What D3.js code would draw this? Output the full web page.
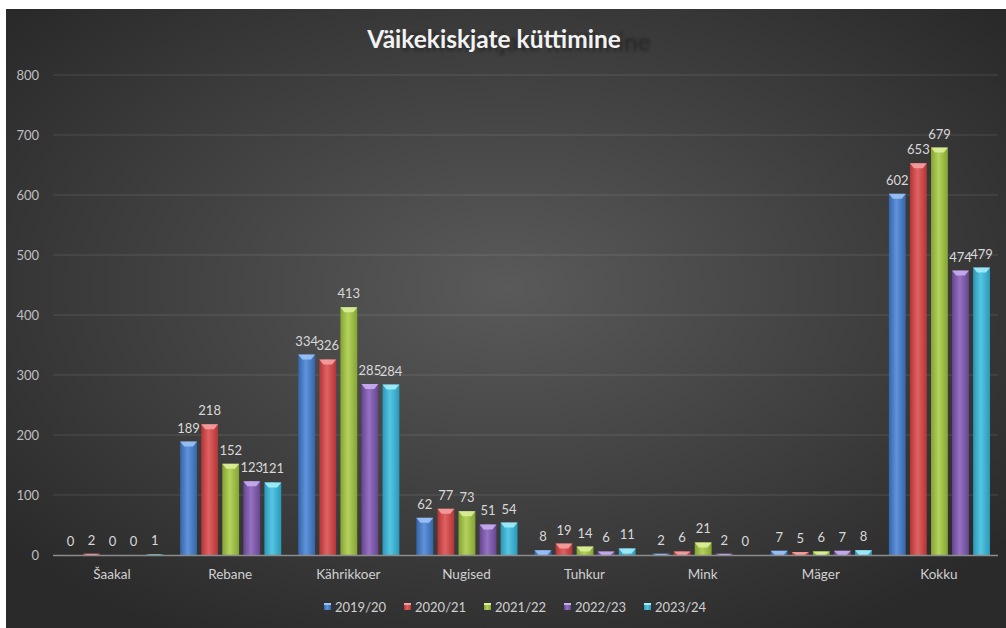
<!DOCTYPE html>
<html><head><meta charset="utf-8">
<script src="https://cdn.jsdelivr.net/npm/d3@7/dist/d3.min.js"></script>
<style>
html,body{margin:0;padding:0;background:#fff;}
svg{display:block;font-family:Lato,"Open Sans",sans-serif;}
</style></head>
<body><svg id="c" width="1006" height="628"></svg>
<script>
const categories = ["Šaakal","Rebane","Kährikkoer","Nugised","Tuhkur","Mink","Mäger","Kokku"];
const seriesNames = ["2019/20","2020/21","2021/22","2022/23","2023/24"];
const s2019 = [0,189,334,62,8,2,7,602];
const s2020 = [2,218,326,77,19,6,5,653];
const s2021 = [0,152,413,73,14,21,6,679];
const s2022 = [0,123,285,51,6,2,7,474];
const s2023 = [1,121,284,54,11,0,8,479];
const seriesValues = [s2019,s2020,s2021,s2022,s2023];
const yTicks = [0,100,200,300,400,500,600,700,800];
const chartTitle = "Väikekiskjate küttimine";

const colors = [
  {edge:"#3565a8", mid:"#5f93dc", top:"#9cc3f5"},
  {edge:"#b23434", mid:"#e06262", top:"#f4a0a0"},
  {edge:"#84a332", mid:"#b4d25c", top:"#dcef9a"},
  {edge:"#664590", mid:"#9672c2", top:"#c8aef0"},
  {edge:"#2a98b8", mid:"#56c6e2", top:"#a4ecfa"}
];

const svg = d3.select("#c");
const defs = svg.append("defs");
const bg = defs.append("radialGradient").attr("id","bg").attr("cx","50%").attr("cy","45%").attr("r","65%");
bg.append("stop").attr("offset","0%").attr("stop-color","#5a5a5a");
bg.append("stop").attr("offset","100%").attr("stop-color","#2a2a2a");
colors.forEach((c,i)=>{
  const g = defs.append("linearGradient").attr("id","bar"+i).attr("x1","0").attr("x2","1").attr("y1","0").attr("y2","0");
  g.append("stop").attr("offset","0%").attr("stop-color",c.edge);
  g.append("stop").attr("offset","45%").attr("stop-color",c.mid);
  g.append("stop").attr("offset","100%").attr("stop-color",c.edge);
});
const blur = defs.append("filter").attr("id","blur").attr("x","-10%").attr("y","-50%").attr("width","120%").attr("height","200%");
blur.append("feGaussianBlur").attr("stdDeviation","1.8");

svg.append("rect").attr("x",6).attr("y",9).attr("width",1000).attr("height",619).attr("fill","url(#bg)");

const pLeft = 53, pRight = 998, pTop = 75, pBottom = 555;
const y = d3.scaleLinear().domain([0,800]).range([pBottom, pTop]);
const x0 = d3.scaleBand().domain(categories).range([pLeft,pRight]).padding(0);
const x1 = d3.scaleBand().domain(seriesNames).range([9, x0.bandwidth()-8]).paddingInner(0.2).paddingOuter(0);

// gridlines
svg.append("g").selectAll("line").data(yTicks.filter(d=>d>0)).join("line")
  .attr("x1",pLeft).attr("x2",pRight).attr("y1",d=>y(d)).attr("y2",d=>y(d))
  .attr("stroke","rgba(255,255,255,0.13)").attr("stroke-width",1);

// y axis labels
const yAxis = d3.axisLeft(y).tickValues(yTicks).tickSize(0).tickPadding(14);
const ya = svg.append("g").attr("transform",`translate(${pLeft},0)`).call(yAxis);
ya.select(".domain").remove();
ya.selectAll("text").attr("fill","#bfbfbf").attr("font-size",13).attr("font-family","Lato,sans-serif");

// bars
const barLayer = svg.append("g");
seriesNames.forEach((sn,si)=>{
  const vals = seriesValues[si];
  const g = barLayer.append("g");
  categories.forEach((cat,ci)=>{
    const v = vals[ci];
    const bx = x0(cat)+x1(sn), bw = x1.bandwidth();
    const by = y(v), bh = pBottom - by;
    if (bh > 0) {
      g.append("rect").attr("x",bx).attr("y",by).attr("width",bw).attr("height",bh).attr("fill",`url(#bar${si})`);
      const bev = Math.min(5, bh);
      g.append("path").attr("d",`M${bx},${by}L${bx+bw},${by}L${bx+bw-4},${by+bev}L${bx+4},${by+bev}Z`).attr("fill",colors[si].top).attr("opacity",0.9);
    }
  });
});

// value labels
const labels = svg.append("g");
seriesNames.forEach((sn,si)=>{
  labels.append("g").selectAll("text").data(seriesValues[si]).join("text")
    .attr("x",(d,ci)=>x0(categories[ci])+x1(sn)+x1.bandwidth()/2)
    .attr("y",d=>y(d)-9)
    .attr("text-anchor","middle").attr("fill","#d9d9d9").attr("font-size",13)
    .text(d=>d);
});

// x axis line
svg.append("line").attr("x1",pLeft).attr("x2",pRight).attr("y1",pBottom+0.5).attr("y2",pBottom+0.5)
  .attr("stroke","#8c8c8c").attr("stroke-width",1.5);
const xAxis = d3.axisBottom(x0).tickSize(0).tickPadding(14);
const xa = svg.append("g").attr("transform",`translate(0,${pBottom})`).call(xAxis);
xa.select(".domain").remove();
xa.selectAll("text").attr("fill","#d0d0d0").attr("font-size",13.5).attr("font-family","Lato,sans-serif");

// title with shadow
svg.append("text").attr("x",524).attr("y",51).attr("text-anchor","middle")
  .attr("font-size",24.5).attr("font-weight","bold").attr("fill","#161616").attr("opacity",0.5)
  .attr("filter","url(#blur)").text(chartTitle);
svg.append("text").attr("x",494).attr("y",48).attr("text-anchor","middle")
  .attr("font-size",24.5).attr("font-weight","bold").attr("fill","#f2f2f2").text(chartTitle);

// legend
const legX = [324,404,484,564,644];
const leg = svg.append("g").selectAll("g").data(seriesNames).join("g")
  .attr("transform",(d,i)=>`translate(${legX[i]},607)`);
leg.append("rect").attr("x",0).attr("y",-4).attr("width",7).attr("height",7).attr("fill",(d,i)=>`url(#bar${i})`);
leg.append("rect").attr("x",0).attr("y",-4).attr("width",7).attr("height",2).attr("fill",(d,i)=>colors[i].top);
leg.append("text").attr("x",11).attr("y",4.5).attr("fill","#d0d0d0").attr("font-size",13).text(d=>d);
</script></body></html>
